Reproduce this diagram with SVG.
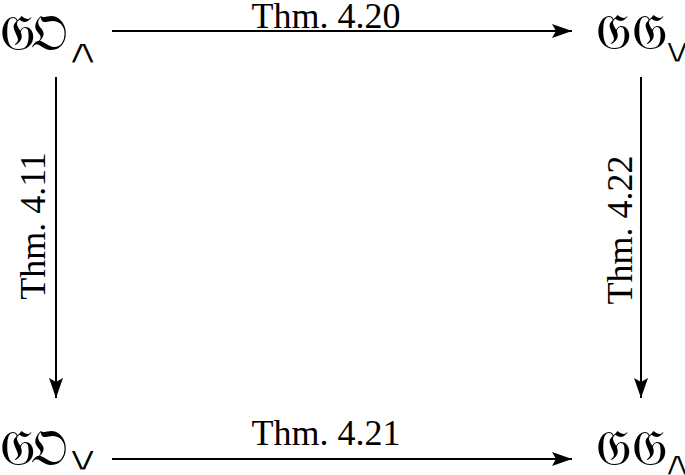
<svg xmlns="http://www.w3.org/2000/svg" width="685" height="475" viewBox="0 0 685 475">
<style>
.node{font-family:"DejaVu Serif","DejaVu Sans","Noto Sans",serif;font-size:50px;fill:#000}
.sub{font-family:"DejaVu Sans","Liberation Sans",sans-serif;font-size:34px;fill:#000;stroke:#fff;stroke-width:1.2}
.lbl{font-family:"Liberation Serif","Times New Roman",serif;font-size:36px;fill:#000;text-anchor:middle}
.edge{stroke:#000;stroke-width:2;fill:none}
</style>
<defs>
<marker id="ah" markerUnits="userSpaceOnUse" markerWidth="22" markerHeight="16" refX="20" refY="7" orient="auto">
<path d="M0,0 L20,7 L0,14 L4,7 Z" fill="#000"/>
</marker>
</defs>
<rect width="685" height="475" fill="#fff"/>
<g id="connectors">
<line class="edge" x1="112" y1="31" x2="572" y2="31" marker-end="url(#ah)"/>
<line class="edge" x1="112" y1="459" x2="572" y2="459" marker-end="url(#ah)"/>
<line class="edge" x1="56" y1="77" x2="56" y2="398" marker-end="url(#ah)"/>
<line class="edge" x1="641" y1="77" x2="641" y2="398" marker-end="url(#ah)"/>
<text class="lbl" x="326" y="28">Thm. 4.20</text>
<text class="lbl" x="326" y="445">Thm. 4.21</text>
<text class="lbl" transform="translate(45,226) rotate(-90)">Thm. 4.11</text>
<text class="lbl" transform="translate(632,230) rotate(-90)">Thm. 4.22</text>
</g>
<g id="GO_and">
<text class="node" x="0" y="50">𝔊</text><text class="node" x="31" y="50">𝔒</text><text class="sub" transform="translate(64,63) scale(1.5,1)">∧</text>
</g>
<g id="GG_or">
<text class="node" x="596" y="49">𝔊</text><text class="node" x="632" y="49">𝔊</text><text class="sub" transform="translate(661,62) scale(1.3,1)">∨</text>
</g>
<g id="GO_or">
<text class="node" x="0" y="465">𝔊</text><text class="node" x="31" y="465">𝔒</text><text class="sub" transform="translate(64,470) scale(1.5,1)">∨</text>
</g>
<g id="GG_and">
<text class="node" x="596" y="465">𝔊</text><text class="node" x="632" y="465">𝔊</text><text class="sub" transform="translate(661,475) scale(1.3,1)">∧</text>
</g>
</svg>
